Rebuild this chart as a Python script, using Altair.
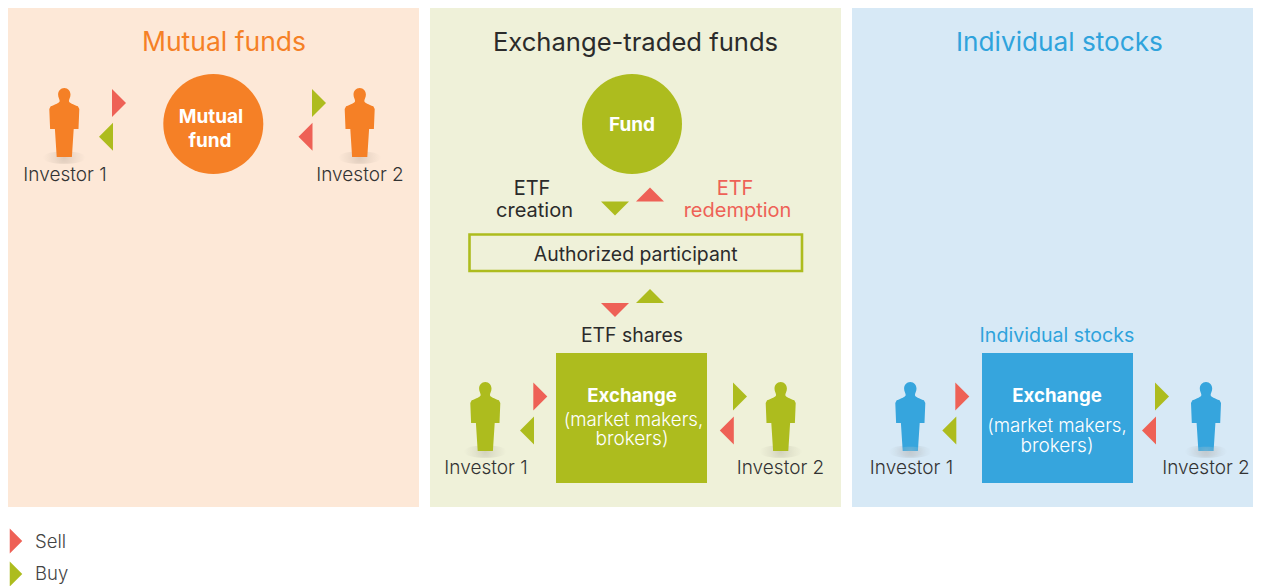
import altair as alt
import pandas as pd

# ---- data (image pixel coordinates, mapped through the scales) ----
panel_x = [8, 430, 852]
panel_x2 = [419, 841, 1261]
panel_fill = ["#fde8d7", "#eff1d9", "#d7e9f6"]
panel_y = [8, 8, 8]
panel_y2 = [507, 507, 507]

box_x = [556, 982]
box_x2 = [707, 1133]
box_y = [353, 353]
box_y2 = [483, 483]
box_fill = ["#adbc1e", "#36a5dd"]

ap_x, ap_x2, ap_y, ap_y2 = [469.5], [802], [234.5], [271]

circle_x = [213.3, 632]
circle_y = [124, 124]
circle_fill = ["#f58026", "#adbc1e"]

tri_x = [119, 106, 319, 305.5, 540.3, 527, 740, 726.8, 962.3, 949.3, 1162, 1149,
         615, 650, 650, 615, 16, 16]
tri_y = [103, 136.7, 103, 136.7, 396.5, 430.5, 396.5, 430.5, 396.5, 430.5, 396.5, 430.5,
         208.5, 194.5, 296, 310, 541, 574]
tri_dir = ["r", "l", "r", "l", "r", "l", "r", "l", "r", "l", "r", "l",
           "d", "u", "u", "d", "r", "r"]
tri_kind = ["Sell", "Buy", "Buy", "Sell", "Sell", "Buy", "Buy", "Sell", "Sell", "Buy", "Buy", "Sell",
            "Buy", "Sell", "Buy", "Sell", "Sell", "Buy"]
tri_size = [784] * 16 + [625, 625]

person_x = [64.3, 359.7, 485.3, 780.7, 910.3, 1206]
person_y = [122.5, 122.5, 416.5, 416.5, 416.5, 416.5]
person_fill = ["#f58026", "#f58026", "#adbc1e", "#adbc1e", "#36a5dd", "#36a5dd"]
front_shadow_x = [910.3, 1206]
front_shadow_y = [451.5, 451.5]

light_text = ["Investor 1", "Investor 2", "Investor 1", "Investor 2", "Investor 1", "Investor 2",
              "(market makers,", "brokers)", "(market makers,", "brokers)"]
light_x = [65, 360, 486, 780.5, 911.5, 1206, 633.5, 632, 1057, 1057]
light_y = [181, 181, 474, 474, 474, 474, 426, 445, 432, 452]
light_size = [19, 19, 19, 19, 19, 19, 18.7, 19, 18.7, 19]
light_color = ["#333333"] * 6 + ["#ffffff"] * 4

main_text = ["Mutual funds", "Exchange-traded funds", "Individual stocks",
             "ETF", "creation", "ETF", "redemption", "Authorized participant", "ETF shares",
             "Individual stocks"]
main_x = [224, 635.5, 1059.5, 532, 534.5, 735, 737.5, 635.7, 632, 1057]
main_y = [51, 51, 51, 195, 217, 195, 217, 261, 342, 342]
main_size = [26.5, 25.6, 26.2, 20, 20, 20, 20, 19.4, 19.4, 19.6]
main_color = ["#f58026", "#2b2b2b", "#2fa3dc", "#2b2b2b", "#2b2b2b", "#ee6156", "#ee6156",
              "#2b2b2b", "#2b2b2b", "#2fa3dc"]

bold_text = ["Mutual", "fund", "Fund", "Exchange", "Exchange"]
bold_x = [211, 210, 632, 632, 1057]
bold_y = [122.7, 146.7, 130.5, 402, 402]
bold_size = [19, 19, 19, 18.6, 18.6]

leg_text = ["Sell", "Buy"]
leg_x = [35, 35]
leg_y = [548, 580]

FONT = "Inter"
W, H = 1245, 578

X = alt.Scale(domain=[8, 1253], nice=False, zero=False)
Y = alt.Scale(domain=[586, 8], nice=False, zero=False)


def xy(x="x", y="y"):
    return dict(x=alt.X(f"{x}:Q", scale=X, axis=None), y=alt.Y(f"{y}:Q", scale=Y, axis=None))


def rects(df, **mark):
    return alt.Chart(df).mark_rect(**mark).encode(**xy(), x2="x2:Q", y2="y2:Q")


panels = rects(pd.DataFrame(dict(x=panel_x, x2=panel_x2, y=panel_y, y2=panel_y2, c=panel_fill))).encode(
    fill=alt.Fill("c:N", scale=None))
boxes = rects(pd.DataFrame(dict(x=box_x, x2=box_x2, y=box_y, y2=box_y2, c=box_fill))).encode(
    fill=alt.Fill("c:N", scale=None))
ap = rects(pd.DataFrame(dict(x=ap_x, x2=ap_x2, y=ap_y, y2=ap_y2)),
           filled=False, stroke="#adbc1e", strokeWidth=2.6)

circles = alt.Chart(pd.DataFrame(dict(x=circle_x, y=circle_y, c=circle_fill))).mark_circle(
    size=10000, opacity=1).encode(**xy(), fill=alt.Fill("c:N", scale=None))

TRI = {
    "r": "M-0.5,-1L0.5,0L-0.5,1Z",
    "l": "M0.5,-1L-0.5,0L0.5,1Z",
    "u": "M-1,0.5L0,-0.5L1,0.5Z",
    "d": "M-1,-0.5L0,0.5L1,-0.5Z",
}
triangles = alt.Chart(pd.DataFrame(dict(x=tri_x, y=tri_y, d=tri_dir, k=tri_kind, s=tri_size))).mark_point(
    filled=True, opacity=1, strokeWidth=0).encode(
    **xy(),
    shape=alt.Shape("d:N", scale=alt.Scale(domain=list(TRI), range=list(TRI.values())), legend=None),
    fill=alt.Fill("k:N", scale=alt.Scale(domain=["Sell", "Buy"], range=["#ee6156", "#adbc1e"]), legend=None),
    size=alt.Size("s:Q", scale=None),
)


# silhouette outline, in pixels around the centre of a 69 px tall figure
def person_path():
    half = 34.5
    n = lambda v: f"{v / half:.4f}"
    right = [
        ("M", [(0, -34.5)]),
        ("C", [(3.8, -34.5), (6.2, -31.5), (6.2, -28)]),
        ("C", [(6.2, -25), (4.8, -23.5), (4.6, -21.5)]),
        ("C", [(4.8, -19.5), (9, -18), (13.6, -16.2)]),
        ("L", [(15, -13.5)]),
        ("L", [(14.2, 6.5)]),
        ("L", [(9.4, 6.5)]),
        ("L", [(7.6, 34.5)]),
    ]
    left = [
        ("L", [(-7.6, 34.5)]),
        ("L", [(-9.4, 6.5)]),
        ("L", [(-14.2, 6.5)]),
        ("L", [(-15, -13.5)]),
        ("L", [(-13.6, -16.2)]),
        ("C", [(-9, -18), (-4.8, -19.5), (-4.6, -21.5)]),
        ("C", [(-4.8, -23.5), (-6.2, -25), (-6.2, -28)]),
        ("C", [(-6.2, -31.5), (-3.8, -34.5), (0, -34.5)]),
    ]
    out = ""
    for cmd, pts in right + left:
        out += cmd + " ".join(f"{n(a)},{n(b)}" for a, b in pts)
    return out + "Z"


ELLIPSE = "M-1,0C-1,-0.4 1,-0.4 1,0C1,0.4 -1,0.4 -1,0Z"
SHADOW = {
    "gradient": "radial",
    "stops": [
        {"offset": 0, "color": "rgba(70,60,50,0.17)"},
        {"offset": 0.5, "color": "rgba(70,60,50,0.07)"},
        {"offset": 1, "color": "rgba(70,60,50,0)"},
    ],
}
FRONT_SHADOW = {
    "gradient": "radial",
    "stops": [
        {"offset": 0, "color": "rgba(200,200,200,0.35)"},
        {"offset": 1, "color": "rgba(200,200,200,0)"},
    ],
}

people_df = pd.DataFrame(dict(x=person_x, y=person_y, c=person_fill))
shadow_df = pd.DataFrame(dict(x=person_x, y=[v + 35 for v in person_y]))
shadows = alt.Chart(shadow_df).mark_point(
    shape=ELLIPSE, filled=True, opacity=1, strokeWidth=0, size=1800, fill=SHADOW).encode(**xy())
people = alt.Chart(people_df).mark_point(
    shape=person_path(), filled=True, opacity=1, strokeWidth=0, size=4761).encode(
    **xy(), fill=alt.Fill("c:N", scale=None))
front_shadows = alt.Chart(pd.DataFrame(dict(x=front_shadow_x, y=front_shadow_y))).mark_point(
    shape=ELLIPSE, filled=True, opacity=1, strokeWidth=0, size=1000, fill=FRONT_SHADOW).encode(**xy())


def texts(df, weight):
    return alt.Chart(df).mark_text(
        font=FONT, baseline="alphabetic", align="center", fontWeight=weight).encode(
        **xy(), text="t:N", size=alt.Size("s:Q", scale=None), fill=alt.Fill("c:N", scale=None))


light = texts(pd.DataFrame(dict(x=light_x, y=light_y, t=light_text, s=light_size, c=light_color)), 300)
main = texts(pd.DataFrame(dict(x=main_x, y=main_y, t=main_text, s=main_size, c=main_color)), 400)
bold = alt.Chart(pd.DataFrame(dict(x=bold_x, y=bold_y, t=bold_text, s=bold_size))).mark_text(
    font=FONT, baseline="alphabetic", align="center", fontWeight=700, fill="#ffffff").encode(
    **xy(), text="t:N", size=alt.Size("s:Q", scale=None))
leg = alt.Chart(pd.DataFrame(dict(x=leg_x, y=leg_y, t=leg_text))).mark_text(
    font=FONT, baseline="alphabetic", align="left", fontWeight=300, fontSize=18.5, fill="#444444").encode(
    **xy(), text="t:N")

chart = alt.layer(panels, boxes, ap, circles, shadows, people, front_shadows, triangles,
                  light, main, bold, leg).properties(
    width=W, height=H, padding=0, autosize=alt.AutoSizeParams(type="none")
).configure_view(stroke=None)

chart.save("out.html", embed_options={"renderer": "svg", "actions": False})
